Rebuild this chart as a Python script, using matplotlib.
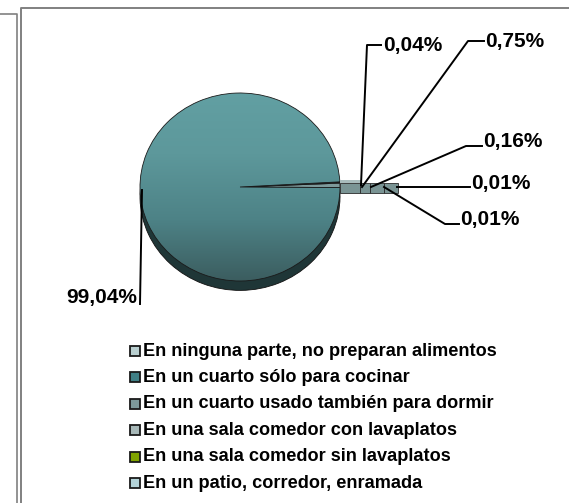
import matplotlib
matplotlib.use("Agg")
import matplotlib.pyplot as plt
import numpy as np
from matplotlib.patches import Rectangle
from matplotlib.colors import LinearSegmentedColormap

plt.rcParams['font.family'] = ['Liberation Sans', 'DejaVu Sans']

# ---- data ----
categories = [
    "En ninguna parte, no preparan alimentos",
    "En un cuarto sólo para cocinar",
    "En un cuarto usado también para dormir",
    "En una sala comedor con lavaplatos",
    "En una sala comedor sin lavaplatos",
    "En un patio, corredor, enramada",
]
values = [0.04, 99.04, 0.75, 0.16, 0.01, 0.01]
value_labels = ["0,04%", "99,04%", "0,75%", "0,16%", "0,01%", "0,01%"]

# ---- styles ----
slice_colors = ["#b9cfd0", "#4d8c90", "#7d9a9b", "#a7b8b8", "#7fa300", "#b3d3d8"]
marker_colors = ["#b9cfd0", "#3f7f85", "#7d9a9b", "#a7b8b8", "#7fa300", "#b3d3d8"]
side_color = "#1f3637"
strip_color = "#7a9494"

W, H = 569, 503
fig = plt.figure(figsize=(W / 100, H / 100), dpi=100)

# pie axes (slightly flattened ellipse)
cx, cy = 240, 187
rx, ry = 100, 94
lim = 1.2
pax = fig.add_axes([(cx - lim * rx) / W, (H - cy - lim * ry) / H,
                    2 * lim * rx / W, 2 * lim * ry / H])
pax.set_zorder(1)

startangle = 3.0
# depth (side) of the 3D pie
side_w, _ = pax.pie(values, startangle=startangle, radius=1.0, center=(0, -0.1),
                    colors=[side_color] * len(values),
                    wedgeprops=dict(linewidth=0.6, edgecolor="#111111"))
# top face
top_w, _ = pax.pie(values, startangle=startangle, radius=1.0, center=(0, 0),
                   colors=slice_colors,
                   wedgeprops=dict(linewidth=0.6, edgecolor="#1a1a1a"))
for w in top_w:
    w.set_zorder(2)
for w in side_w:
    w.set_zorder(1)

# gradient over the big slice
big = int(np.argmax(values))
cmap = LinearSegmentedColormap.from_list("g", ["#3a5a5c", "#4d8286", "#5d989b", "#62a0a3"])
grad = np.linspace(0, 1, 256).reshape(-1, 1)
im = pax.imshow(grad, extent=(-1.05, 1.05, -1.05, 1.05), origin="lower",
                cmap=cmap, aspect="auto", zorder=3)
im.set_clip_path(top_w[big])
top_w[big].set_zorder(4)
top_w[big].set_facecolor("none")

# strip of the small slices' side walls, to the right of the pie
small_idx = [i for i in range(len(values)) if i != big]
seg_w = [0.20, 0.10, 0.14, 0.14]
x0 = 1.0
for k, i in enumerate(small_idx[:len(seg_w)]):
    pax.add_patch(Rectangle((x0, -0.065), seg_w[k], 0.11, facecolor=strip_color,
                            edgecolor="#2a2a2a", linewidth=0.6, zorder=5,
                            clip_on=False))
    x0 += seg_w[k]
pax.add_patch(Rectangle((1.0, 0.045), 0.22, 0.03, facecolor="#a9bcbc",
                        edgecolor="none", zorder=5, clip_on=False))

pax.set_aspect("auto")
pax.set_xlim(-lim, lim)
pax.set_ylim(-lim, lim)
pax.axis("off")

# overlay axes in pixel coordinates
ax = fig.add_axes([0, 0, 1, 1])
ax.set_zorder(3)
ax.patch.set_visible(False)
ax.set_xlim(0, W)
ax.set_ylim(H, 0)
ax.axis("off")

frame_c = "#808080"
ax.plot([21, 21, W + 5], [H + 5, 8, 8], color=frame_c, lw=1.4, solid_capstyle="butt")
ax.plot([0, 17, 17], [14, 14, H + 5], color=frame_c, lw=1.2, solid_capstyle="butt")

# leader lines and labels (layout)
label_pos = {
    0: dict(line=[(361, 185), (367, 45), (381, 45)], text=(383, 45)),
    2: dict(line=[(362, 187), (468, 41), (484, 41)], text=(485, 41)),
    3: dict(line=[(371, 187), (466, 146), (482, 146)], text=(483, 142)),
    4: dict(line=[(397, 187), (470, 187)], text=(471, 183)),
    5: dict(line=[(384, 187), (445, 224), (459, 224)], text=(460, 220)),
    1: dict(line=[(142, 190), (140, 304)], text=(137, 298)),
}
for i, lp in label_pos.items():
    xs, ys = zip(*lp["line"])
    ax.plot(xs, ys, color="black", lw=1.4)
    ha = "right" if i == big else "left"
    ax.text(lp["text"][0], lp["text"][1], value_labels[i], ha=ha, va="center",
            fontsize=15, fontweight="bold", color="black")

# legend
leg_x, leg_y0, leg_dy = 130, 351, 26.4
for i, name in enumerate(categories):
    y = leg_y0 + i * leg_dy
    ax.add_patch(Rectangle((leg_x, y - 5), 10, 10, facecolor=marker_colors[i],
                           edgecolor="#1a1a1a", linewidth=1.3))
    ax.text(leg_x + 13, y, name, ha="left", va="center", fontsize=13.1,
            fontweight="bold", color="black")

fig.savefig("out.png", dpi=100)
